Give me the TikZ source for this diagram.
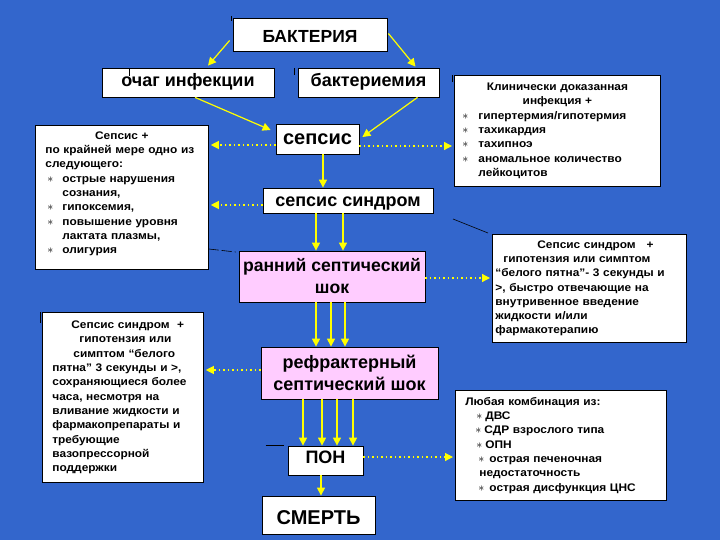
\documentclass[tikz,border=0pt]{standalone}
\usepackage{fontspec}
\setmainfont{Liberation Sans}
\newfontfamily\smallfont[FakeStretch=1.08]{Liberation Sans}
\usetikzlibrary{arrows.meta,calc}
\definecolor{bgblue}{HTML}{3366CC}
\definecolor{ayel}{HTML}{FFFF00}
\definecolor{pinkbox}{HTML}{FFCCFF}
\newcommand{\astk}{{\fontsize{13}{13}\selectfont$\ast$}}
\newcommand{\bitem}[3]{\mbox{\makebox[#2][l]{\hspace*{#1}\astk}#3}}
\newcommand{\ctrline}[1]{\makebox[\linewidth]{#1}}
\begin{document}
\begin{tikzpicture}[x=1pt,y=-1pt,
  mainbox/.style={draw=black,line width=0.8pt,fill=white,inner sep=0pt,text depth=0pt,font=\bfseries\fontsize{18}{22}\selectfont},
  twoline/.style={draw=black,line width=0.8pt,fill=pinkbox,inner sep=0pt,align=center,font=\bfseries\fontsize{18}{22}\selectfont},
  infobox/.style={draw=black,line width=0.8pt,fill=white,anchor=north west,inner ysep=0pt,align=left,font=\smallfont\bfseries\fontsize{11}{14.3}\selectfont},
  yarrow/.style={ayel,line width=1.2pt,-{Triangle[length=8pt,width=8pt]}},
  ydot/.style={ayel,line width=1.2pt,dash pattern=on 1.3pt off 3.2pt,-{Triangle[length=8pt,width=8pt]}},
  thinline/.style={black,line width=0.6pt}]
\fill[bgblue] (0,0) rectangle (720,540);
\useasboundingbox (0,0) rectangle (720,540);

% main boxes
\node[mainbox,minimum width=154pt,minimum height=33pt,text height=16pt,font=\bfseries\fontsize{17.5}{21}\selectfont] (bact) at (310,34.5) {БАКТЕРИЯ};
\node[mainbox,minimum width=172pt,minimum height=29pt,text height=9pt] (ochag) at (188,82.5) {очаг инфекции};
\node[mainbox,minimum width=141pt,minimum height=29pt,text height=8.5pt] (bacter) at (368.5,82.5) {бактериемия};
\node[mainbox,minimum width=83pt,minimum height=30pt,text height=12pt,font=\bfseries\fontsize{20}{22}\selectfont] (sepsis) at (317.5,139) {сепсис};
\node[mainbox,minimum width=170pt,minimum height=25pt,text height=13pt] (synd) at (348,200.5) {сепсис синдром};
\node[twoline,minimum width=186pt,minimum height=51pt,font=\bfseries\fontsize{17.6}{22}\selectfont] (early) at (332,276.5) {ранний септический\\шок};
\node[twoline,minimum width=177pt,minimum height=52pt] (refr) at (349.5,373) {рефрактерный\\септический шок};
\node[mainbox,minimum width=75pt,minimum height=29pt,text height=6pt] (pon) at (325.5,460.5) {ПОН};
\node[mainbox,minimum width=113pt,minimum height=38pt,text height=18pt,font=\bfseries\fontsize{20}{24}\selectfont] (death) at (318.5,515) {СМЕРТЬ};

% info boxes
\node[infobox,inner xsep=6pt,text width=194pt,minimum height=111pt] (clin) at (454,75) {%
\ctrline{Клинически доказанная}\\
\ctrline{инфекция +}\\
\bitem{2pt}{18pt}{гипертермия/гипотермия}\\
\bitem{2pt}{18pt}{тахикардия}\\
\bitem{2pt}{18pt}{тахипноэ}\\
\bitem{2pt}{18pt}{аномальное количество}\\
\mbox{\hspace*{18pt}лейкоцитов}};

\node[infobox,inner xsep=10pt,text width=153pt,minimum height=144pt] (lbox1) at (35,125) {%
\ctrline{Сепсис +}\\
\mbox{по крайней мере одно из}\\
\mbox{следующего:}\\
\bitem{2pt}{17pt}{острые нарушения}\\
\mbox{\hspace*{17pt}сознания,}\\
\bitem{2pt}{17pt}{гипоксемия,}\\
\bitem{2pt}{17pt}{повышение уровня}\\
\mbox{\hspace*{17pt}лактата плазмы,}\\
\bitem{2pt}{17pt}{олигурия}\\[-5pt]\mbox{}};

\node[infobox,inner xsep=3pt,text width=188pt,minimum height=108pt] (rbox2) at (492,234) {%
\mbox{\hspace*{42pt}Сепсис синдром \ \ +}\\
\mbox{\hspace*{8pt}гипотензия или симптом}\\
\mbox{“белого пятна”- 3 секунды и}\\
\mbox{>, быстро отвечающие на}\\
\mbox{внутривенное введение}\\
\mbox{жидкости и/или}\\
\mbox{фармакотерапию}};

\node[infobox,inner xsep=10pt,text width=141pt,minimum height=170pt] (lbox2) at (42,312) {%
\mbox{\hspace*{19pt}Сепсис синдром \ +}\\
\mbox{\hspace*{27pt}гипотензия или}\\
\mbox{\hspace*{21pt}симптом “белого}\\
\mbox{пятна” 3 секунды и >,}\\
\mbox{сохраняющиеся более}\\
\mbox{часа, несмотря на}\\
\mbox{вливание жидкости и}\\
\mbox{фармакопрепараты и}\\
\mbox{требующие}\\
\mbox{вазопрессорной}\\
\mbox{поддержки}};

\node[infobox,inner xsep=10pt,text width=191pt,minimum height=110pt] (anybox) at (455,390) {%
\mbox{Любая комбинация из:}\\
\bitem{11pt}{20pt}{ДВС}\\
\bitem{10pt}{19pt}{СДР взрослого типа}\\
\bitem{11pt}{20pt}{ОПН}\\
\bitem{13pt}{24pt}{острая печеночная}\\
\mbox{\hspace*{14pt}недостаточность}\\
\bitem{13pt}{24pt}{острая дисфункция ЦНС}};

% solid yellow arrows
\draw[yarrow] ($(bact.west)+(-3,6)$) -- ($(ochag.north)+(20,-2)$);
\draw[yarrow] ($(bact.east)+(1,-1)$) -- ($(bacter.north)+(47,-1)$);
\draw[yarrow] ($(ochag.south)+(7,0)$) -- ($(sepsis.west)+(-5,-9)$);
\draw[yarrow] ($(bacter.south)+(49,0)$) -- ($(sepsis.east)+(3,-2)$);
\draw[yarrow] (sepsis.south -| 323,0) -- (synd.north -| 323,0);
\foreach \xx in {316,343} \draw[yarrow] (synd.south -| \xx,0) -- (early.north -| \xx,0);
\foreach \xx in {316,331,345} \draw[yarrow] (early.south -| \xx,0) -- (refr.north -| \xx,0);
\foreach \xx in {303,322,337,353} \draw[yarrow] (refr.south -| \xx,0) -- (pon.north -| \xx,0);
\draw[yarrow] (pon.south -| 321,0) -- (death.north -| 321,0);

% dotted yellow arrows
\draw[ydot,shorten >=2pt] (sepsis.west |- 0,145) -- (lbox1.east |- 0,145);
\draw[ydot,shorten >=2pt] (sepsis.east |- 0,146) -- (clin.west |- 0,146);
\draw[ydot,shorten >=2pt] (synd.west |- 0,205) -- (lbox1.east |- 0,205);
\draw[ydot,shorten >=2pt] (early.east |- 0,278) -- (rbox2.west |- 0,278);
\draw[ydot,shorten >=2pt] (refr.west |- 0,370) -- (lbox2.east |- 0,370);
\draw[ydot,shorten >=2pt] (pon.east |- 0,457) -- (anybox.west |- 0,457);

% thin black marks
\draw[thinline,dash pattern=on 10pt off 3pt] (lbox1.east |- 0,249) -- ($(early.west |- 0,252)+(-3,0)$);
\draw[thinline] ($(rbox2.north west)+(-39,-15)$) -- ($(rbox2.north west)+(-4,-1)$);
\draw[thinline] ($(pon.north west)+(-22,0)$) -- ($(pon.north west)+(-4,0)$);
\draw[thinline] (231,16) -- (231,21);
\draw[thinline] (129,69) -- (129,76);
\draw[thinline] (294,68) -- (294,75);
\draw[thinline] (452,75) -- (452,82);
\draw[thinline] (40,312) -- (40,323);
\end{tikzpicture}
\end{document}
